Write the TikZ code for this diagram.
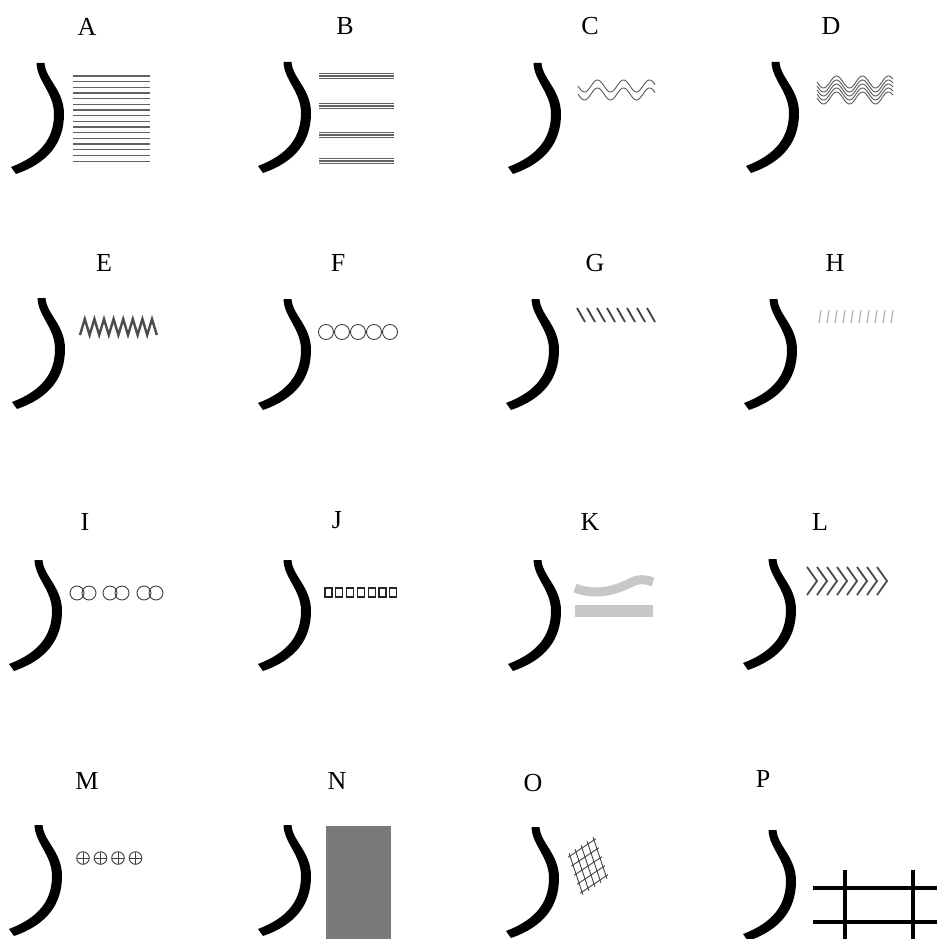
\documentclass[tikz,border=0pt]{standalone}
\usepackage{fontspec}
\setmainfont{Liberation Serif}
\begin{document}
\begin{tikzpicture}[x=1pt,y=-1pt,
  lab/.style={font=\fontsize{26}{28}\selectfont, inner sep=0pt},
  hook/.pic={\fill (-3.5,0) -- (4.5,0) .. controls (5.5,16) and (24,27) .. (24,51) .. controls (24,80) and (8,100) .. (-24,111)
     -- (-29,104) .. controls (0,93) and (14,76) .. (14,51) .. controls (14,30) and (-3,18) .. cycle;},
  hatchA/.style={draw=black!62, line width=1.1pt},
  thin grey/.style={draw=black!65, line width=0.9pt}]
\useasboundingbox (0,0) rectangle (937,939);
\fill[white] (0,0) rectangle (937,939);
% labels
\node[lab] (lA) at (87,27) {A};
\node[lab] (lB) at (345,26) {B};
\node[lab] (lC) at (590,26) {C};
\node[lab] (lD) at (831,26) {D};
\node[lab] (lE) at (104,263) {E};
\node[lab] (lF) at (338,263) {F};
\node[lab] (lG) at (595,263) {G};
\node[lab] (lH) at (835,263) {H};
\node[lab] (lI) at (85,522) {I};
\node[lab] (lJ) at (337,520) {J};
\node[lab] (lK) at (590,522) {K};
\node[lab] (lL) at (820,522) {L};
\node[lab] (lM) at (87,781) {M};
\node[lab] (lN) at (337,781) {N};
\node[lab] (lO) at (533,783) {O};
\node[lab] (lP) at (763,779) {P};
% hooks
\foreach \p in {(40,63),(287,62),(537,63),(775,62),
                (41,298),(287,299),(535,299),(773,299),
                (38,560),(287,560),(537,560),(772,559),
                (38,825),(287,825),(535,827),(772,830)}
  \pic at \p {hook};
% A: many horizontal lines
\foreach \i in {0,...,15} \draw[hatchA] (73,{76+5.67*\i}) -- (150,{76+5.67*\i});
% B: four bundles
\foreach \y in {76,106,135,161}
  \foreach \d in {-2.6,0,2.6} \draw[hatchA] (319,\y+\d) -- (394,\y+\d);
% C: two waves
\foreach \c in {86,94}
  \draw[thin grey] plot[domain=0:77, samples=80] ({578+\x},{\c+6*sin(\x*13.846)});
% D: five waves
\foreach \k in {0,...,4}
  \draw[thin grey] plot[domain=0:76, samples=80] ({817+\x},{82+4*\k+6*sin(\x*13.846)});
% E: zigzag
\draw[draw=black!70, line width=2.4pt, line join=miter] (80,335)
  \foreach \i in {0,...,7} { -- ({84.8+9.6*\i},319) -- ({89.6+9.6*\i},335) };
% F: five circles
\foreach \i in {0,...,4} \draw[black!75, line width=0.9pt] ({326+16*\i},332) circle (7.5);
% G: dark ticks
\foreach \i in {0,...,7} \draw[black!75, line width=1.8pt] ({577+10*\i},308) -- ({585+10*\i},322);
% H: light ticks
\foreach \i in {0,...,9} \draw[black!30, line width=1.2pt] ({819+8*\i},323) -- ({821+8*\i},310);
% I: pairs of circles
\foreach \c in {77,110,144}
  { \draw[black!75, line width=0.9pt] (\c,593) circle (7); \draw[black!75, line width=0.9pt] (\c+12,593) circle (7); }
% J: small rectangles
\foreach \i in {0,...,6} \draw[black!85, line width=1.3pt] ({325+10.8*\i},588) rectangle ({332+10.8*\i},597);
% K: grey bands
\draw[draw=black!22, line width=9pt] (575,588) .. controls (595,596) and (615,591) .. (632,582) .. controls (640,578) and (648,580) .. (653,582);
\fill[black!22] (575,605) rectangle (653,617);
% L: chevrons
\foreach \i in {0,...,7} \draw[black!70, line width=1.8pt] ({807+10*\i},567) -- ({817+10*\i},581) -- ({807+10*\i},595);
% M: circles with plus
\foreach \i in {0,...,3} {
  \draw[black!75, line width=0.9pt] ({83+17.5*\i},858) circle (6.3);
  \draw[black!75, line width=0.9pt] ({76.7+17.5*\i},858) -- ({89.3+17.5*\i},858) ({83+17.5*\i},851.7) -- ({83+17.5*\i},864.3);
}
% N: grey rectangle
\fill[black!52] (326,826) rectangle (391,939);
% O: mesh (u=(6,-4), v=(3,9))
\begin{scope}[shift={(570,856)}]
  \foreach \i in {0,...,4}
    \draw[black!75, line width=0.9pt] ({6*\i-3*0.3},{-4*\i-9*0.3}) -- ({6*\i+3*4.3},{-4*\i+9*4.3});
  \foreach \j in {0,...,4}
    \draw[black!75, line width=0.9pt] ({3*\j-6*0.3},{9*\j+4*0.3}) -- ({3*\j+6*4.3},{9*\j-4*4.3});
\end{scope}
% P: thick grid
\draw[line width=4.5pt] (813,888) -- (937,888) (813,922) -- (937,922)
  (845,870) -- (845,939) (913,870) -- (913,939);
\end{tikzpicture}
\end{document}
